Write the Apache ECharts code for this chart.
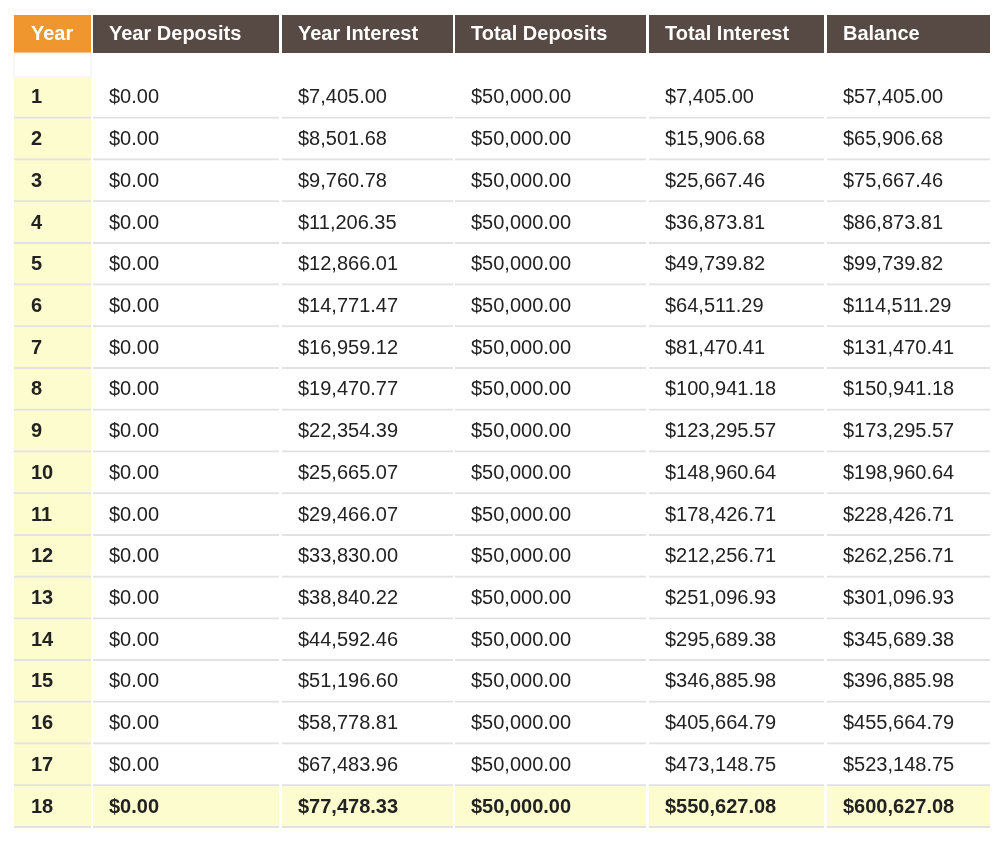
<!DOCTYPE html>
<html><head><meta charset="utf-8">
<script src="https://cdn.jsdelivr.net/npm/echarts@6/dist/echarts.min.js"></script>
<style>html,body{margin:0;padding:0;background:#fff}#c{width:1000px;height:849px}</style>
</head><body><div id="c"></div>
<script>
const headers = ['Year','Year Deposits','Year Interest','Total Deposits','Total Interest','Balance'];
const years = [1,2,3,4,5,6,7,8,9,10,11,12,13,14,15,16,17,18];
const yearDeposits = new Array(18).fill(0);
const yearInterest = [7405.00,8501.68,9760.78,11206.35,12866.01,14771.47,16959.12,19470.77,22354.39,25665.07,29466.07,33830.00,38840.22,44592.46,51196.60,58778.81,67483.96,77478.33];
const totalDeposits = new Array(18).fill(50000);
const totalInterest = [7405.00,15906.68,25667.46,36873.81,49739.82,64511.29,81470.41,100941.18,123295.57,148960.64,178426.71,212256.71,251096.93,295689.38,346885.98,405664.79,473148.75,550627.08];
const balance = [57405.00,65906.68,75667.46,86873.81,99739.82,114511.29,131470.41,150941.18,173295.57,198960.64,228426.71,262256.71,301096.93,345689.38,396885.98,455664.79,523148.75,600627.08];

const colEdges = [[14,91],[93,279],[282,453],[455,646],[649,824],[827,990]];
const money = v => '$' + v.toLocaleString('en-US',{minimumFractionDigits:2,maximumFractionDigits:2});
const cols = [years.map(String), yearDeposits.map(money), yearInterest.map(money), totalDeposits.map(money), totalInterest.map(money), balance.map(money)];
const rowNames = years.map(String);
const data = [];
const labels = [];
for (let r = 0; r < years.length; r++) for (let c = 0; c < cols.length; c++) { data.push([c, r]); labels.push(cols[c][r]); }

const chart = echarts.init(document.getElementById('c'));
const font = '"Liberation Sans", Arial, sans-serif';
const header = headers.map((h, i) => ({
  type: 'group',
  children: [
    {type:'rect', shape:{x:colEdges[i][0], y:15, width:colEdges[i][1]-colEdges[i][0], height:38}, style:{fill: i===0?'#f0962e':'#574a44'}},
    {type:'text', style:{x: colEdges[i][0] + (i===0?17:16), y:34, text:h, fill:'#fff', font:'bold 20px '+font, verticalAlign:'middle'}}
  ]
}));
chart.setOption({
  animation:false,
  grid:{left:0,right:0,top:77,bottom:21},
  xAxis:{type:'value',min:0,max:1000,show:false},
  yAxis:{type:'category',data:rowNames,inverse:true,show:false},
  graphic: header.concat([{type:'rect', shape:{x:14,y:53,width:77,height:24}, style:{fill:'#fff', stroke:'#eee'}}]),
  series:[{
    type:'custom',
    data:data,
    renderItem:(params, api) => {
      const c = api.value(0), r = api.value(1);
      const e = colEdges[c];
      const p0 = api.coord([e[0], r]);
      const p1 = api.coord([e[1], r]);
      const h = api.size([0,1])[1];
      const top = p0[1] - h/2;
      const last = r === years.length - 1;
      const fill = (c === 0 || last) ? '#fdfcce' : '#fff';
      return {type:'group', children:[
        {type:'rect', shape:{x:p0[0], y:top, width:p1[0]-p0[0], height:h}, style:{fill:fill}},
        {type:'rect', shape:{x:p0[0], y:top+h-2, width:p1[0]-p0[0], height:2}, style:{fill:'#e2e2e2'}},
        {type:'text', style:{x:p0[0] + (c===0?17:16), y:p0[1], text:labels[params.dataIndex], fill:'#222',
          font:(last||c===0?'bold ':'')+'20px '+font, verticalAlign:'middle'}}
      ]};
    }
  }]
});
</script></body></html>
